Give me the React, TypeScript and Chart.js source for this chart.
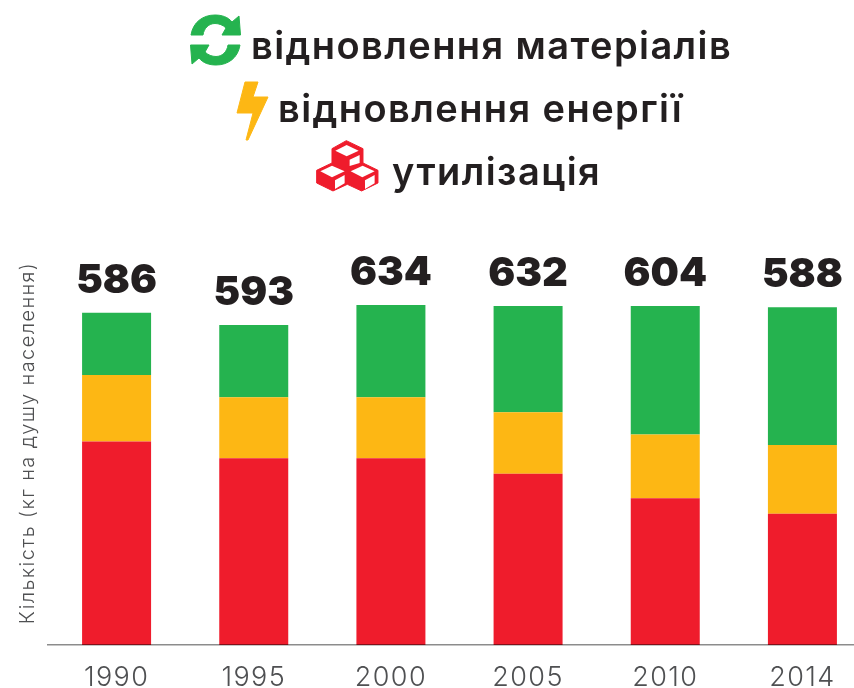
import React, { useEffect, useRef } from "react";
import { Chart, registerables } from "chart.js";

Chart.register(...registerables);

const years = ["1990", "1995", "2000", "2005", "2010", "2014"];
const totals = [586, 593, 634, 632, 604, 588];
const disposal = [366, 336, 336, 308, 264, 236];
const energyRecovery = [120, 110, 110, 111, 115, 124];
const materialRecovery = [112, 130, 166, 191, 231, 248];
const legendMaterial = "відновлення матеріалів";
const legendEnergy = "відновлення енергії";
const legendDisposal = "утилізація";
const yTitle = "Кількість (кг на душу населення)";

const GREEN = "#25b34f";
const YELLOW = "#fdb714";
const RED = "#ef1c2c";
const INK = "#231f20";
const LEGEND_FONT = "Inter, sans-serif";

const totalsPlugin = {
  id: "totals",
  beforeDraw(chart: any) {
    chart.ctx.letterSpacing = "1.4px";
  },
  afterDatasetsDraw(chart: any) {
    const { ctx } = chart;
    const top = chart.getDatasetMeta(2).data;
    ctx.save();
    ctx.letterSpacing = "0px";
    ctx.font = "900 40px Inter, sans-serif";
    ctx.fillStyle = INK;
    ctx.textAlign = "center";
    ctx.textBaseline = "middle";
    totals.forEach((t, i) => {
      ctx.fillText(String(t), top[i].x, top[i].y - 32);
    });
    ctx.restore();
  },
};

function LegendText({ left, top, text }: { left: number; top: number; text: string }) {
  return (
    <div
      style={{
        position: "absolute",
        left,
        top,
        font: `600 38px/44px ${LEGEND_FONT}`,
        letterSpacing: "1.42px",
        color: INK,
        whiteSpace: "nowrap",
      }}
    >
      {text}
    </div>
  );
}

function Icons() {
  return (
    <>
      <svg style={{ position: "absolute", left: 190, top: 14 }} width={51} height={52} viewBox="0 0 51 52">
        <path fill={GREEN} stroke={GREEN} strokeWidth={1} strokeLinejoin="round" d="M1 21 C3 8 13 1 25 1 C32 1 38 3 42 8 L49 2 L50.5 21 L32 21 L36 14 C33 11 29 9.5 25 9.5 C19 9.5 14 14 13 21 Z" />
        <path fill={GREEN} stroke={GREEN} strokeWidth={1} strokeLinejoin="round" transform="rotate(180 25.5 26)" d="M1 21 C3 8 13 1 25 1 C32 1 38 3 42 8 L49 2 L50.5 21 L32 21 L36 14 C33 11 29 9.5 25 9.5 C19 9.5 14 14 13 21 Z" />
      </svg>
      <svg style={{ position: "absolute", left: 236, top: 81 }} width={34} height={60} viewBox="0 0 34 60">
        <path fill={YELLOW} stroke={YELLOW} strokeWidth={1} strokeLinejoin="round" d="M9 1 L22 1 L17 16 L32 16 L12 59 L10 59 L17 32 L1 32 Z" />
      </svg>
      <svg style={{ position: "absolute", left: 313.3, top: 136.7 }} width={68.3} height={57.3} viewBox="430 410 205 172">
        <path fill={RED} stroke={RED} strokeWidth={3} strokeLinejoin="round" d="M530 421 L580 445 L580 488 L625 510 L625 548 L576 572 L533 552 L490 572 L441 548 L441 510 L487 488 L487 445 Z" />
        <g fill="#fff">
          <path d="M531 434 L567 451 L531 468 L497 451 Z" />
          <path d="M540 478 L570 464 L570 488 L540 497 Z" />
          <path d="M487 496 L525 513 L487 531 L452 513 Z" />
          <path d="M496 540 L525 524 L525 549 L496 566 Z" />
          <path d="M579 496 L615 513 L578 531 L543 513 Z" />
          <path d="M586 540 L615 524 L615 549 L586 566 Z" />
        </g>
      </svg>
    </>
  );
}

export default function App() {
  const ref = useRef<HTMLCanvasElement | null>(null);

  useEffect(() => {
    if (!ref.current) return;
    const chart = new Chart(ref.current, {
      type: "bar",
      data: {
        labels: years,
        datasets: [
          { label: legendDisposal, data: disposal, backgroundColor: RED },
          { label: legendEnergy, data: energyRecovery, backgroundColor: YELLOW },
          { label: legendMaterial, data: materialRecovery, backgroundColor: GREEN },
        ],
      },
      options: {
        responsive: false,
        animation: false,
        layout: { padding: { top: 241, left: 0, right: 0, bottom: 0 } },
        datasets: { bar: { barPercentage: 0.503, categoryPercentage: 1 } },
        plugins: { legend: { display: false }, tooltip: { enabled: false } },
        scales: {
          x: {
            stacked: true,
            grid: { display: false, drawTicks: false },
            border: { display: true, color: "rgba(0,0,0,0.45)", width: 1.5, z: 1 },
            ticks: { color: "#4f5052", font: { family: "Inter, sans-serif", size: 27, weight: "300" }, padding: 17, maxRotation: 0 },
            afterFit: (s: any) => { s.height = 43; },
          },
          y: {
            stacked: true,
            min: 0,
            max: 727,
            grid: { display: false, drawTicks: false },
            border: { display: false },
            ticks: { display: false },
            title: {
              display: true,
              text: yTitle,
              color: "#4f5052",
              font: { family: "Inter, sans-serif", size: 20, weight: "300" },
              padding: { top: 16, bottom: 0 },
            },
            afterFit: (s: any) => { s.width = 48; },
          },
        },
      },
      plugins: [totalsPlugin],
    } as any);
    return () => chart.destroy();
  }, []);

  return (
    <div style={{ position: "absolute", left: 0, top: 0, width: 854, height: 688, overflow: "hidden", background: "#fff" }}>
      <canvas ref={ref} width={871} height={688} style={{ display: "block", position: "absolute", left: 0, top: 0 }} />
      <Icons />
      <LegendText left={251} top={23} text={legendMaterial} />
      <LegendText left={278} top={86} text={legendEnergy} />
      <LegendText left={392} top={149} text={legendDisposal} />
    </div>
  );
}
